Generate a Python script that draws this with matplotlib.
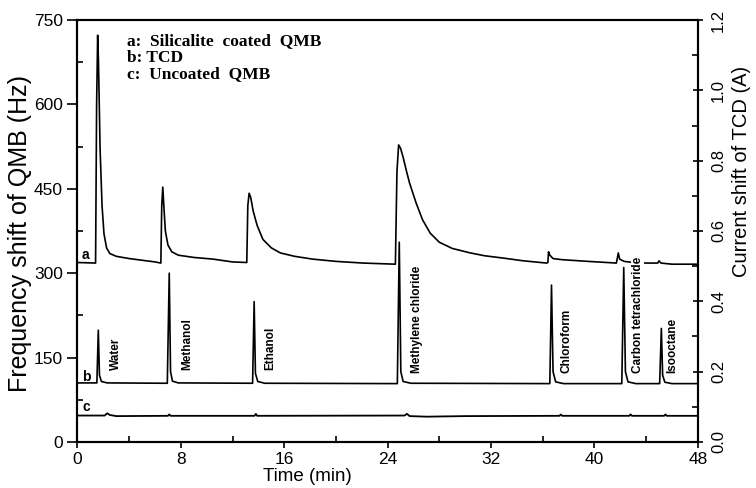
import matplotlib
matplotlib.use('Agg')
import matplotlib.pyplot as plt
from matplotlib.ticker import MultipleLocator

# curve a: silicalite coated QMB (Hz, left axis)
a_time = [0, 1.40, 1.48, 1.56, 1.62, 1.75, 1.9, 2.05, 2.25, 2.5, 3.0, 4.0, 5.0, 6.0, 6.45,
          6.52, 6.6, 6.68, 6.8, 7.0, 7.3, 7.8, 9.0, 10.5, 12.0, 13.1,
          13.18, 13.28, 13.4, 13.6, 13.9, 14.35, 15.0, 15.7, 16.8, 18.2, 20.0, 22.1, 24.6,
          24.72, 24.85, 25.0, 25.2, 25.45, 25.7, 26.2, 26.7, 27.3, 28.0, 29.0, 30.4, 31.5,
          32.9, 34.5, 36.3, 36.4, 36.45, 36.55, 36.8, 37.5, 39.5, 41.7, 41.85, 41.95, 42.3,
          43.0, 44.0, 44.9, 45.0, 45.15, 46.0, 48.0]
a_freq = [319, 318, 600, 723, 680, 520, 420, 370, 345, 335, 330, 326, 323, 320, 318,
          420, 453, 420, 375, 350, 338, 332, 328, 325, 320, 319,
          420, 442, 435, 410, 385, 360, 345, 336, 330, 325, 321, 318, 316,
          480, 528, 522, 506, 482, 460, 425, 395, 371, 355, 344, 336, 331,
          327, 322, 318, 319, 338, 332, 326, 324, 321, 318, 336, 325, 321,
          319, 318, 318, 322, 318, 316, 316]

# curve b: TCD (A, right axis)
b_time = [0, 1.5, 1.61, 1.70, 1.85, 2.3, 6.95, 7.10, 7.2, 7.35, 7.8,
          13.55, 13.67, 13.77, 13.95, 14.5, 24.75, 24.9, 25.02, 25.2, 25.8,
          36.55, 36.68, 36.8, 37.0, 37.6, 42.12, 42.27, 42.4, 42.6, 43.2,
          45.05, 45.18, 45.28, 45.45, 46.0, 48.0]
b_curr = [0.168, 0.168, 0.318, 0.19, 0.172, 0.168, 0.167, 0.48, 0.2, 0.173, 0.168,
          0.167, 0.399, 0.195, 0.172, 0.167, 0.166, 0.568, 0.2, 0.172, 0.167,
          0.166, 0.446, 0.2, 0.171, 0.166, 0.166, 0.496, 0.2, 0.171, 0.166,
          0.166, 0.323, 0.19, 0.17, 0.166, 0.166]

# curve c: uncoated QMB (Hz, left axis)
c_time = [0, 2.1, 2.3, 2.5, 3.0, 7.0, 7.1, 7.2, 13.7, 13.8, 13.9, 25.3, 25.5, 25.7,
          27.0, 30.0, 37.3, 37.4, 37.5, 42.7, 42.8, 42.9, 45.4, 45.5, 45.6, 48.0]
c_freq = [47, 47, 51, 48, 46, 46.5, 49, 46.5, 46.5, 50, 46.5, 47, 50, 46,
          45, 46, 46.5, 49, 46.5, 46.5, 49, 46.5, 46.5, 49, 46.5, 46.5]

compounds = ['Water', 'Methanol', 'Ethanol', 'Methylene chloride', 'Chloroform',
             'Carbon tetrachloride', 'Isooctane']
label_time = [2.98, 8.47, 14.9, 26.3, 37.85, 43.35, 46.05]
label_base = [0.205, 0.205, 0.205, 0.196, 0.196, 0.196, 0.196]

fig = plt.figure(figsize=(7.56, 4.88), dpi=100)
ax = fig.add_axes([0.1025, 0.0943, 0.8205, 0.8647])
ax2 = ax.twinx()

ax.plot(a_time, a_freq, color='black', lw=1.2)
ax.plot(c_time, c_freq, color='black', lw=1.3)
ax2.plot(b_time, b_curr, color='black', lw=1.2)

ax.set_xlim(0, 48)
ax.set_ylim(0, 750)
ax2.set_ylim(0, 1.2)

ax.xaxis.set_major_locator(MultipleLocator(8))
ax.xaxis.set_minor_locator(MultipleLocator(4))
ax.yaxis.set_major_locator(MultipleLocator(150))
ax.yaxis.set_minor_locator(MultipleLocator(75))
ax2.yaxis.set_major_locator(MultipleLocator(0.2))
ax2.yaxis.set_minor_locator(MultipleLocator(0.1))
ax2.yaxis.set_major_formatter(plt.FormatStrFormatter('%.1f'))

ax.tick_params(axis='y', which='major', direction='out', length=7, width=1.2,
               labelsize=12.5, labelfontfamily='Liberation Sans')
ax.tick_params(axis='x', which='major', direction='out', length=4, width=1.2,
               labelsize=12.5, labelfontfamily='Liberation Sans', pad=3)
ax.tick_params(axis='both', which='minor', direction='in', length=4, width=1.2)
ax2.tick_params(axis='y', which='major', direction='inout', length=7, width=1.2, pad=6,
                labelsize=12, labelrotation=90, labelfontfamily='Liberation Sans')
ax2.tick_params(axis='y', which='minor', direction='in', length=4, width=1.2)
for lab in ax2.get_yticklabels():
    lab.set_va('center')

for sp in ['left', 'right', 'top', 'bottom']:
    ax.spines[sp].set_linewidth(1.5)
    ax2.spines[sp].set_linewidth(1.5)

ax.set_xlabel('Time (min)', fontsize=13.5, family='Liberation Sans')
ax.xaxis.set_label_coords(0.37, -0.062)
ax.set_ylabel('Frequency shift of QMB (Hz)', fontsize=18, family='Liberation Sans')
ax.yaxis.set_label_coords(-0.073, 0.493)
ax2.set_ylabel('Current shift of TCD (A)', fontsize=14.5, family='Liberation Sans')
ax2.yaxis.set_label_coords(1.055, 0.64)

for name, t, y in zip(compounds, label_time, label_base):
    ax2.text(t, y, name, rotation=90, ha='center', va='bottom', fontsize=8.5,
             fontweight='bold', family='Liberation Sans',
             bbox=dict(facecolor='white', edgecolor='none', pad=0.5))

ax.text(0.65, 332, 'a', ha='center', va='center', fontsize=10, fontweight='bold', family='Liberation Sans')
ax.text(0.65, 116, 'b', ha='center', va='center', fontsize=10, fontweight='bold', family='Liberation Sans')
ax.text(0.65, 62, 'c', ha='center', va='center', fontsize=10, fontweight='bold', family='Liberation Sans')

legend_lines = ['a:  Silicalite  coated  QMB', 'b: TCD', 'c:  Uncoated  QMB']
for i, line in enumerate(legend_lines):
    ax.text(3.85, 712 - i * 29.5, line, ha='left', va='center', fontsize=12.5,
            fontweight='bold', family='Liberation Serif')

fig.savefig('out.png', dpi=100)
